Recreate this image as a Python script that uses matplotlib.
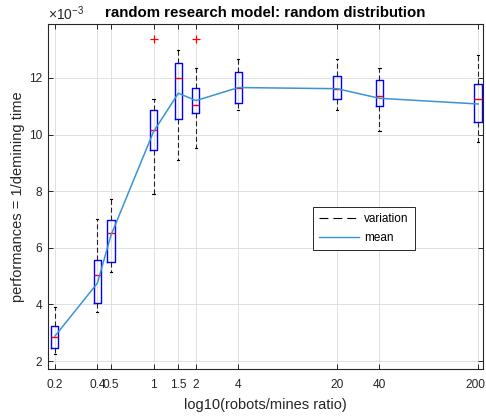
import matplotlib
matplotlib.use("Agg")
import matplotlib.pyplot as plt
import matplotlib.transforms as mtransforms
import numpy as np
from matplotlib.lines import Line2D

plt.rcParams['font.family'] = ['Liberation Sans', 'DejaVu Sans']
plt.rcParams['mathtext.fontset'] = 'custom'
plt.rcParams['mathtext.rm'] = 'Liberation Sans'
plt.rcParams['mathtext.it'] = 'Liberation Sans'

# data (values in units of 1e-3)
ratios = [0.2, 0.4, 0.5, 1, 1.5, 2, 4, 20, 40, 200]
tick_labels = ['0.2', '0.4', '0.5', '1', '1.5', '2', '4', '20', '40', '200']
whisk_lo = [2.25, 3.74, 5.14, 7.90, 9.09, 9.52, 10.86, 10.87, 10.13, 9.74]
q1 = [2.46, 4.04, 5.50, 9.46, 10.54, 10.76, 11.12, 11.25, 11.00, 10.45]
medians = [2.84, 5.03, 6.51, 10.16, 11.99, 11.05, 11.66, 11.62, 11.35, 11.25]
q3 = [3.25, 5.56, 6.98, 10.86, 12.51, 11.65, 12.21, 12.07, 11.92, 11.78]
whisk_hi = [3.90, 7.02, 7.72, 11.26, 12.99, 12.35, 12.66, 12.67, 12.36, 12.82]
outliers = [[], [], [], [13.37], [], [13.37], [], [], [], []]
means = [2.88, 4.75, 6.45, 10.10, 11.46, 11.20, 11.66, 11.62, 11.28, 11.08]

fig = plt.figure(figsize=(4.86, 4.16), dpi=100)
ax = fig.add_axes([0.098, 0.113, 0.896, 0.829])

stats = []
for i in range(len(ratios)):
    stats.append(dict(med=medians[i], q1=q1[i], q3=q3[i], whislo=whisk_lo[i],
                      whishi=whisk_hi[i], fliers=outliers[i]))

pos = np.array(ratios, dtype=float)
f = 10 ** (3.6 / 141)
widths = pos * (f - 1 / f)
capw = pos * 0.035

ax.set_xscale('log')
ax.bxp(stats, positions=pos, widths=widths, capwidths=capw, manage_ticks=False,
       boxprops=dict(color='#0000ff', linewidth=1.0),
       medianprops=dict(color='#ff0000', linewidth=1.0),
       whiskerprops=dict(color='#222222', linewidth=0.8, linestyle=(0, (4.5, 2.5))),
       capprops=dict(color='black', linewidth=0.8),
       flierprops=dict(marker='+', markeredgecolor='#ff0000', markersize=6, markeredgewidth=0.9))

mean_color = '#3a94d4'
ax.plot(pos, means, color=mean_color, linewidth=1.1, zorder=5)

ax.set_xlim(0.1776, 217)
ax.set_ylim(1.72, 13.9)
ax.set_xticks(pos)
ax.set_xticklabels(tick_labels)
ax.xaxis.set_minor_locator(matplotlib.ticker.NullLocator())
ax.set_yticks([2, 4, 6, 8, 10, 12])
ax.set_yticklabels(['2', '4', '6', '8', '10', '12'])

ax.grid(True, color='#dcdcdc', linewidth=0.6, zorder=0)
ax.set_axisbelow(True)
axc = '#262626'
for s in ax.spines.values():
    s.set_color(axc)
    s.set_linewidth(0.8)
ax.tick_params(direction='in', length=3.5, width=0.7, colors=axc, labelsize=8.6,
               top=True, right=True, labelcolor='#262626')
ax.tick_params(axis='x', pad=7)
ax.tick_params(axis='y', pad=4)

# nudge the last x tick label so it stays inside the figure
last = ax.get_xticklabels()[-1]
last.set_transform(last.get_transform() +
                   mtransforms.ScaledTranslation(-3 / 100, 0, fig.dpi_scale_trans))

ax.set_title('random research model: random distribution', fontsize=10.8,
             fontweight='bold', pad=5)
ax.set_xlabel('log10(robots/mines ratio)', fontsize=10.5, color='#262626', labelpad=5)
ax.set_ylabel('performances = 1/demining time', fontsize=10.5, color='#262626', labelpad=3)
ax.text(0.0, 1.004, r'$\times10^{-3}$', transform=ax.transAxes, fontsize=10,
        color='#262626', ha='left', va='bottom')

handles = [Line2D([], [], color='black', linestyle=(0, (8, 4.5)), linewidth=0.8),
           Line2D([], [], color=mean_color, linewidth=1.0)]
leg = ax.legend(handles, ['variation', 'mean'], loc='upper left',
                bbox_to_anchor=(0.609, 0.47), fontsize=8.5, frameon=True,
                fancybox=False, edgecolor='#262626', framealpha=1,
                handlelength=3.4, handletextpad=0.4, borderpad=0.55,
                labelspacing=0.55, borderaxespad=0)
leg.get_frame().set_linewidth(0.7)

fig.savefig('out.png', dpi=100)
